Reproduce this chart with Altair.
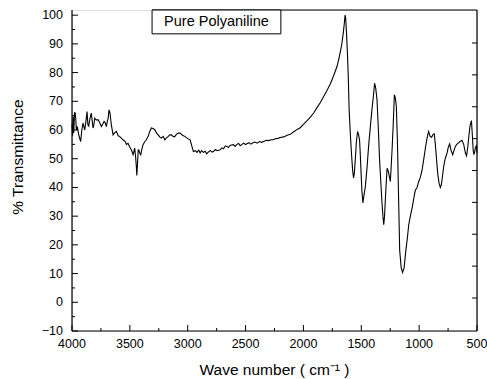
import altair as alt
import pandas as pd

wavenumber = [
    4000, 3995, 3991, 3985, 3978, 3971, 3962, 3954, 3940, 3925, 3915, 3905, 3890, 3880, 3870,
    3863, 3856, 3845, 3833, 3825, 3818, 3810, 3804, 3790, 3775, 3760, 3746, 3735, 3723, 3713,
    3703, 3695, 3688, 3680, 3672, 3660, 3645, 3632, 3617, 3600, 3587, 3570, 3559, 3540, 3530,
    3516, 3500, 3487, 3472, 3465, 3458, 3450, 3444, 3440, 3434, 3428, 3423, 3415, 3406, 3395,
    3386, 3370, 3357, 3340, 3328, 3314, 3300, 3285, 3270, 3256, 3240, 3228, 3212, 3198, 3185,
    3170, 3155, 3141, 3124, 3112, 3098, 3083, 3066, 3045, 3022, 3000, 2979, 2965, 2951, 2935,
    2920, 2905, 2893, 2880, 2865, 2850, 2835, 2820, 2805, 2790, 2778, 2760, 2745, 2720, 2705,
    2690, 2675, 2662, 2648, 2635, 2620, 2605, 2590, 2575, 2560, 2547, 2532, 2515, 2500, 2489,
    2470, 2455, 2440, 2420, 2400, 2380, 2360, 2340, 2320, 2300, 2280, 2259, 2240, 2220, 2200,
    2170, 2140, 2114, 2080, 2050, 2028, 2000, 1970, 1940, 1910, 1883, 1855, 1830, 1800, 1768,
    1740, 1710, 1690, 1675, 1667, 1655, 1647, 1640, 1635, 1628, 1620, 1612, 1605, 1595, 1585,
    1575, 1567, 1560, 1552, 1542, 1532, 1524, 1515, 1508, 1503, 1495, 1486, 1478, 1465, 1450,
    1437, 1422, 1408, 1395, 1385, 1375, 1364, 1352, 1342, 1330, 1321, 1313, 1306, 1299, 1292,
    1284, 1277, 1270, 1263, 1256, 1249, 1242, 1234, 1224, 1214, 1205, 1197, 1187, 1177, 1168,
    1155, 1143, 1130, 1115, 1100, 1090, 1076, 1060, 1045, 1033, 1018, 1004, 990, 975, 961,
    945, 930, 918, 905, 895, 889, 880, 869, 860, 850, 840, 828, 817, 808, 798,
    788, 775, 759, 748, 736, 725, 710, 698, 687, 675, 660, 645, 630, 615, 600,
    590, 580, 570, 560, 548, 540, 533, 527, 520, 513, 505, 500,
]
transmittance = [
    62, 58, 64.7, 59, 66, 65.9, 60, 61.2, 58, 56, 60, 62.4, 60, 63, 66.4,
    62, 61.2, 64, 65.9, 63, 60.7, 62, 64.1, 63.5, 63.6, 62.5, 61.2, 62, 63, 62.5,
    61.2, 63, 64, 67, 66, 61.8, 58.3, 59, 59.5, 58, 57.7, 57, 56.6, 56, 55,
    55.4, 54, 53.1, 51.4, 52.5, 53.7, 50.5, 47.3, 44.2, 48, 53, 53.1, 52, 51.4, 53.5,
    54.9, 56, 56.6, 58, 59.5, 60.7, 60.5, 60.1, 59, 58.3, 57.5, 57.2, 57.8, 56.6, 57.2,
    57.7, 58.3, 58.3, 57.7, 57.7, 58.5, 58.9, 58.9, 58.2, 57.7, 57, 56.6, 54.5, 52.5, 52.8,
    52.2, 53, 52, 52.8, 52.2, 52.6, 51.7, 52.4, 52.9, 52.3, 52.5, 53.2, 52.8, 53.1, 53.8,
    53.5, 54.5, 54.3, 53.9, 54.6, 54.8, 54.9, 54.3, 55, 55.3, 54.5, 55, 55.4, 54.9, 55.2,
    55.6, 55.1, 55.5, 55.8, 55.4, 56, 55.7, 56.1, 56.4, 56.3, 56.6, 56.6, 57, 57.1, 57.4,
    57.6, 58.2, 58.5, 59.5, 60.3, 60.8, 62, 63.2, 64.5, 66, 67.8, 69.5, 71.3, 73.5, 76,
    78.8, 82.1, 85.5, 88.5, 90.3, 94, 97, 100, 99, 94, 87, 78, 67, 58.9, 52,
    46, 43.3, 45, 49.6, 56, 59.5, 58.5, 56.6, 51, 46.2, 39, 34.6, 37, 40.3, 47,
    54.3, 61, 67, 72, 76.3, 74.5, 70.5, 60, 49.6, 41, 34.6, 30, 27, 30, 35.7,
    42, 46.7, 46, 45, 43.5, 42.1, 47, 53.1, 62, 72.3, 71, 68.2, 55, 35, 18,
    12, 10.4, 12, 18, 23, 27, 30, 33, 36.5, 39, 40, 42, 43.5, 46, 49.6,
    54, 57.5, 59.5, 57.8, 57.5, 57.7, 58.5, 58.7, 55, 50, 45, 41.5, 40, 41, 44,
    47.3, 50, 52, 54, 55.2, 53, 51.4, 53, 54.3, 55, 55.5, 56, 56.4, 55, 52,
    51, 54, 58, 61.5, 63.3, 58, 53, 51.4, 52.5, 54, 54.5, 52,
]

x_major = [4000, 3500, 3000, 2500, 2000, 1500, 1000, 500]
x_minor = [3750, 3250, 2750, 2250, 1750, 1250, 750]
y_major = [-10, 0, 10, 20, 30, 40, 50, 60, 70, 80, 90, 100]
y_minor = [-5, 5, 15, 25, 35, 45, 55, 65, 75, 85, 95]
y_right = [1.5, 12.6, 23.7, 34.8, 45.9, 57.0, 68.1, 79.2, 90.3]
legend_label = ["Pure Polyaniline"]
x_title = ["Wave number ( cm⁻¹ )"]
y_title = ["% Transmittance"]

W, H = 405, 321
FONT = "Liberation Sans"

df = pd.DataFrame({"wn": wavenumber, "t": transmittance})
xs = alt.Scale(domain=[4000, 500], nice=False, zero=False)
ys = alt.Scale(domain=[-10, 101.8], nice=False, zero=False)

line = alt.Chart(df).mark_line(color="black", strokeWidth=1.1).encode(
    x=alt.X("wn:Q", scale=xs, axis=None),
    y=alt.Y("t:Q", scale=ys, axis=None),
)

def vtick(vals, length):
    return alt.Chart(pd.DataFrame({"v": vals})).mark_rule(color="black", strokeWidth=1).encode(
        x=alt.X("v:Q", scale=xs, axis=None),
        y=alt.value(H), y2=alt.value(H - length))

def htick(vals, length, right=False):
    if right:
        xv, x2v = alt.value(W), alt.value(W - length)
    else:
        xv, x2v = alt.value(0), alt.value(length)
    return alt.Chart(pd.DataFrame({"v": vals})).mark_rule(color="black", strokeWidth=1).encode(
        y=alt.Y("v:Q", scale=ys, axis=None), x=xv, x2=x2v)

x_labels = alt.Chart(pd.DataFrame({"v": x_major})).mark_text(
    font=FONT, fontSize=12.5, color="black", align="center", baseline="alphabetic").encode(
    x=alt.X("v:Q", scale=xs, axis=None), y=alt.value(H + 17), text="v:Q")
y_labels = alt.Chart(pd.DataFrame({"v": y_major})).mark_text(
    font=FONT, fontSize=12.5, color="black", align="right", baseline="middle").encode(
    y=alt.Y("v:Q", scale=ys, axis=None), x=alt.value(-9), text="v:Q")

xt = alt.Chart(pd.DataFrame({"s": x_title})).mark_text(
    font=FONT, fontSize=15.5, color="black", align="center", baseline="alphabetic").encode(
    x=alt.value(W / 2), y=alt.value(H + 44), text="s:N")
yt = alt.Chart(pd.DataFrame({"s": y_title})).mark_text(
    font=FONT, fontSize=15.5, color="black", align="center", baseline="middle", angle=270).encode(
    x=alt.value(-54), y=alt.value(147), text="s:N")

frame_left = alt.Chart().mark_rule(color="black", strokeWidth=1.2).encode(
    x=alt.value(0), y=alt.value(0), y2=alt.value(H))
frame_bottom = alt.Chart().mark_rule(color="black", strokeWidth=1.2).encode(
    y=alt.value(H), x=alt.value(0), x2=alt.value(W))
frame_right = alt.Chart().mark_rule(color="black", strokeWidth=1.2).encode(
    x=alt.value(W), y=alt.value(0), y2=alt.value(H))
frame_top = alt.Chart().mark_rule(color="black", strokeWidth=1).encode(
    x=alt.datum(3308, scale=xs, axis=None), x2=alt.value(W), y=alt.value(0))

box = alt.Chart().mark_rect(fill="white", stroke="black", strokeWidth=1).encode(
    x=alt.datum(3308, scale=xs, axis=None), x2=alt.datum(2195),
    y=alt.datum(101.8, scale=ys, axis=None), y2=alt.datum(93.5))
box_text = alt.Chart(pd.DataFrame({"label": legend_label})).mark_text(
    font=FONT, fontSize=14.5, color="black", baseline="middle", align="center").encode(
    x=alt.datum(2751.5, scale=xs, axis=None), y=alt.datum(97.5, scale=ys, axis=None),
    text="label:N")

chart = alt.layer(
    line,
    vtick(x_major, 6), vtick(x_minor, 3),
    htick(y_major, 6), htick(y_minor, 3),
    htick(y_right, 5, right=True),
    frame_left, frame_bottom, frame_right, frame_top,
    box, box_text,
    x_labels, y_labels, xt, yt,
).properties(
    width=W, height=H,
    autosize=alt.AutoSizeParams(type="none"),
    padding={"left": 72, "top": 10, "right": 10, "bottom": 48},
).configure_view(stroke=None).configure(background="white")

chart.save("out.html", embed_options={"renderer": "svg", "actions": False})
